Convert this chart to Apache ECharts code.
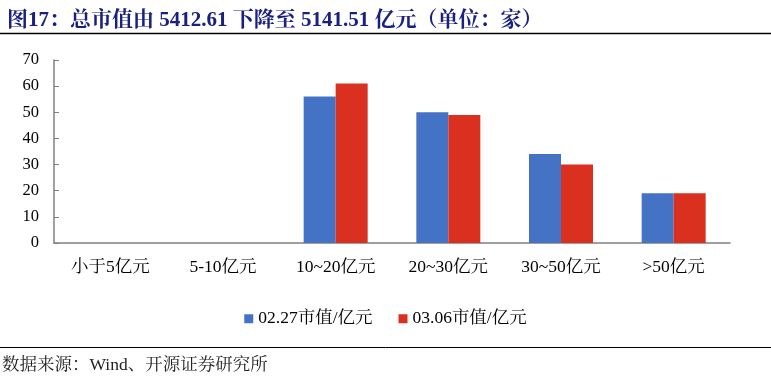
<!DOCTYPE html>
<html><head><meta charset="utf-8">
<script src="https://cdn.jsdelivr.net/npm/echarts@6/dist/echarts.min.js"></script>
<style>html,body{margin:0;padding:0;background:#fff}#c{width:771px;height:381px}</style>
</head><body><div id="c"></div>
<script>
const categories = ['小于5亿元','5-10亿元','10~20亿元','20~30亿元','30~50亿元','>50亿元'];
const seriesNames = ['02.27市值/亿元','03.06市值/亿元'];
const values0227 = [0,0,56,50,34,19];
const values0306 = [0,0,61,49,30,19];
const yTicks = {min:0, max:70, interval:10};
const titleText = '图17：总市值由 5412.61 下降至 5141.51 亿元（单位：家）';
const sourceText = '数据来源：Wind、开源证券研究所';

const serif = '"Liberation Serif","Times New Roman","Noto Serif CJK SC","Noto Sans CJK SC",serif';
const chart = echarts.init(document.getElementById('c'), null, {renderer:'canvas'});
chart.setOption({
  animation:false,
  backgroundColor:'#fff',
  title:{text:titleText, left:2, top:5, textStyle:{fontFamily:serif, fontSize:21, fontWeight:'bold', color:'#1a2080'}},
  graphic:[
    {type:'line', shape:{x1:0,y1:33.5,x2:771,y2:33.5}, style:{stroke:'#000', lineWidth:1.5}},
    {type:'line', shape:{x1:0,y1:347.5,x2:771,y2:347.5}, style:{stroke:'#000', lineWidth:1}},
    {type:'text', left:2, top:357, style:{text:sourceText, fontFamily:serif, fontSize:17.5, fill:'#222'}}
  ],
  legend:{data:seriesNames, left:'center', top:305, icon:'rect', itemWidth:9, itemHeight:9, itemGap:26, itemTextGap:3,
    textStyle:{fontFamily:serif, fontSize:17.5, color:'#000'}},
  grid:{left:54, right:41, top:60, bottom:138},
  xAxis:{type:'category', data:categories,
    axisLine:{lineStyle:{color:'#808080', width:1.5}},
    axisTick:{inside:true, length:5, lineStyle:{color:'#808080'}},
    axisLabel:{fontFamily:serif, fontSize:17.5, color:'#000', margin:16}},
  yAxis:{type:'value', min:yTicks.min, max:yTicks.max, interval:yTicks.interval,
    splitLine:{show:false},
    axisLine:{show:true, lineStyle:{color:'#808080', width:1.5}},
    axisTick:{show:true, inside:true, length:5, lineStyle:{color:'#808080'}},
    axisLabel:{fontFamily:serif, fontSize:16.5, color:'#000', margin:15}},
  series:[
    {name:seriesNames[0], type:'bar', data:values0227, barWidth:32, barGap:'0%', itemStyle:{color:'#4472C4'}},
    {name:seriesNames[1], type:'bar', data:values0306, barWidth:32, barGap:'0%', itemStyle:{color:'#D9301F'}}
  ]
});
</script></body></html>
